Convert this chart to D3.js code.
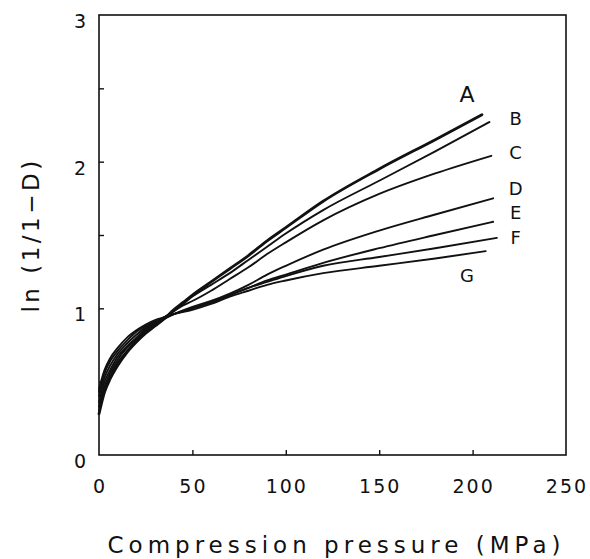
<!DOCTYPE html>
<html>
<head>
<meta charset="utf-8">
<script src="https://cdn.jsdelivr.net/npm/d3@7"></script>
<style>
  body { margin: 0; background: #fff; }
  text { font-family: "DejaVu Sans", sans-serif; fill: #111; }
</style>
</head>
<body>
<div id="canvas"></div>
<script>
// Heckel plot: ln(1/1-D) vs compression pressure, curves A..G

const seriesNames = ["A", "B", "C", "D", "E", "F", "G"];

// pressure (MPa) and ln(1/1-D)
const pA = [0, 3, 6, 10, 15, 20, 25, 30, 35, 40, 45, 50, 60, 70, 80, 90, 100, 120, 150, 180, 205];
const vA = [0.28, 0.43, 0.52, 0.61, 0.70, 0.77, 0.83, 0.88, 0.93, 0.99, 1.04, 1.09, 1.18, 1.27, 1.36, 1.46, 1.55, 1.73, 1.95, 2.15, 2.32];

const pB = [0, 3, 6, 10, 15, 20, 25, 30, 35, 40, 45, 50, 60, 70, 80, 90, 100, 120, 150, 180, 209];
const vB = [0.30, 0.45, 0.54, 0.63, 0.71, 0.78, 0.84, 0.89, 0.93, 0.98, 1.03, 1.08, 1.16, 1.24, 1.33, 1.42, 1.51, 1.67, 1.87, 2.07, 2.27];

const pC = [0, 3, 6, 10, 15, 20, 25, 30, 35, 40, 45, 50, 60, 70, 80, 90, 100, 120, 150, 180, 210];
const vC = [0.33, 0.47, 0.56, 0.65, 0.73, 0.79, 0.85, 0.90, 0.94, 0.98, 1.02, 1.05, 1.12, 1.20, 1.28, 1.37, 1.45, 1.60, 1.78, 1.92, 2.04];

const pD = [0, 3, 6, 10, 15, 20, 25, 30, 35, 40, 50, 60, 70, 80, 90, 100, 120, 150, 180, 211];
const vD = [0.36, 0.50, 0.58, 0.67, 0.74, 0.80, 0.86, 0.90, 0.93, 0.96, 1.01, 1.05, 1.10, 1.16, 1.23, 1.29, 1.40, 1.53, 1.64, 1.75];

const pE = [0, 3, 6, 10, 15, 20, 25, 30, 35, 40, 50, 60, 70, 80, 90, 100, 120, 150, 180, 211];
const vE = [0.40, 0.53, 0.61, 0.69, 0.76, 0.82, 0.87, 0.91, 0.93, 0.96, 1.00, 1.04, 1.09, 1.14, 1.19, 1.23, 1.31, 1.41, 1.50, 1.59];

const pF = [0, 3, 6, 10, 15, 20, 25, 30, 35, 40, 50, 60, 70, 80, 90, 100, 120, 150, 180, 213];
const vF = [0.43, 0.56, 0.64, 0.71, 0.78, 0.84, 0.88, 0.91, 0.94, 0.96, 1.00, 1.04, 1.09, 1.14, 1.18, 1.22, 1.29, 1.35, 1.41, 1.48];

const pG = [0, 3, 6, 10, 15, 20, 25, 30, 35, 40, 50, 60, 70, 80, 90, 100, 120, 150, 180, 207];
const vG = [0.45, 0.58, 0.66, 0.73, 0.80, 0.85, 0.89, 0.92, 0.94, 0.96, 0.99, 1.03, 1.08, 1.12, 1.16, 1.19, 1.24, 1.29, 1.34, 1.39];

// where each letter sits, in data units
const labelP = [197, 223, 223, 223, 223, 223, 197];
const labelV = [2.41, 2.25, 2.02, 1.77, 1.61, 1.44, 1.18];

const xTicks = [0, 50, 100, 150, 200, 250];
const yTicks = [0, 1, 2, 3];
const yMinor = [0.5, 1.5, 2.5];

const seriesP = [pA, pB, pC, pD, pE, pF, pG];
const seriesV = [vA, vB, vC, vD, vE, vF, vG];
const series = seriesNames.map((name, i) => ({
    name: name,
    points: seriesP[i].map((p, j) => ({ p: p, v: seriesV[i][j] }))
}));

const width = 590;
const height = 559;
const marginLeft = 99;
const marginRight = 24;
const marginTop = 15;
const marginBottom = 104;

const x = d3.scaleLinear()
    .domain([0, 250])
    .range([marginLeft, width - marginRight]);

const y = d3.scaleLinear()
    .domain([0, 3])
    .range([height - marginBottom, marginTop]);

const svg = d3.select("#canvas")
    .append("svg")
    .attr("width", width)
    .attr("height", height)
    .attr("viewBox", [0, 0, width, height]);

// frame
svg.append("rect")
    .attr("x", x(0))
    .attr("y", y(3))
    .attr("width", x(250) - x(0))
    .attr("height", y(0) - y(3))
    .attr("fill", "none")
    .attr("stroke", "#111")
    .attr("stroke-width", 1.6);

// x axis, ticks pointing inward
svg.append("g")
    .attr("transform", `translate(0,${y(0)})`)
    .call(d3.axisTop(x).tickValues(xTicks.slice(1, -1)).tickSize(5).tickFormat(""))
    .call(g => g.select(".domain").remove())
    .call(g => g.selectAll("line").attr("stroke", "#111").attr("stroke-width", 1.4));

svg.append("g")
    .selectAll("text")
    .data(xTicks)
    .join("text")
        .attr("x", d => x(d) + 1)
        .attr("y", y(0) + 38)
        .attr("text-anchor", "middle")
        .attr("font-size", 19)
        .attr("letter-spacing", 2)
        .text(d => d);

// y axis, ticks pointing inward
svg.append("g")
    .attr("transform", `translate(${x(0)},0)`)
    .call(d3.axisRight(y).tickValues([...yTicks.slice(1, -1), ...yMinor]).tickSize(5).tickFormat(""))
    .call(g => g.select(".domain").remove())
    .call(g => g.selectAll("line").attr("stroke", "#111").attr("stroke-width", 1.4));

svg.append("g")
    .selectAll("text")
    .data(yTicks)
    .join("text")
        .attr("x", 80)
        .attr("y", d => y(d) + 13)
        .attr("text-anchor", "middle")
        .attr("font-size", 19)
        .text(d => d);

// axis titles
svg.append("text")
    .attr("x", (x(0) + x(250)) / 2 + 4)
    .attr("y", 553)
    .attr("text-anchor", "middle")
    .attr("font-size", 23)
    .attr("letter-spacing", 5)
    .text("Compression pressure (MPa)");

svg.append("text")
    .attr("transform", `translate(39,235) rotate(-90)`)
    .attr("text-anchor", "middle")
    .attr("font-size", 23)
    .attr("letter-spacing", 3.5)
    .text("ln (1/1\u2212D)");

// curves
const line = d3.line()
    .x(d => x(d.p))
    .y(d => y(d.v))
    .curve(d3.curveMonotoneX);

svg.append("g")
    .attr("fill", "none")
    .attr("stroke", "#111")
    .attr("stroke-linejoin", "round")
    .attr("stroke-linecap", "round")
    .selectAll("path")
    .data(series)
    .join("path")
        .attr("stroke-width", d => d.name === "A" ? 2.8 : 1.9)
        .attr("d", d => line(d.points));

// curve letters
svg.append("g")
    .selectAll("text")
    .data(seriesNames)
    .join("text")
        .attr("x", (d, i) => x(labelP[i]))
        .attr("y", (d, i) => y(labelV[i]))
        .attr("text-anchor", "middle")
        .attr("font-size", (d, i) => i === 0 ? 22 : 18)
        .text(d => d);
</script>
</body>
</html>
